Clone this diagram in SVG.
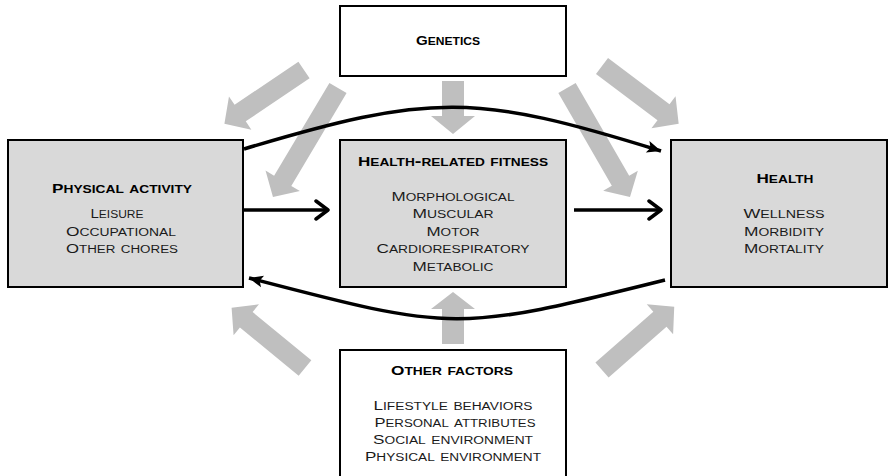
<svg xmlns="http://www.w3.org/2000/svg" width="890" height="476" viewBox="0 0 890 476">
  <style>
    .box { stroke: #000; stroke-width: 2; }
    .grey { fill: #d9d9d9; }
    .white { fill: #fff; }
    .blk { fill: #bfbfbf; }
    .t { font-family: "Liberation Sans", Arial, sans-serif; font-variant: small-caps; font-size: 12.5px; text-anchor: middle; fill: #1a1a1a; }
    .t tspan { font-size: 14.5px; }
    .h { font-weight: bold; fill: #000; }
    .link { fill: none; stroke: #000; stroke-width: 3.5; }
  </style>
  <defs>
    <marker id="chev" markerUnits="userSpaceOnUse" viewBox="-16 -12 18 24" refX="0" refY="0" markerWidth="18" markerHeight="24" orient="auto">
      <path d="M-12,-9 L0,0 L-12,9" fill="none" stroke="#000" stroke-width="3.5" stroke-linecap="round" stroke-linejoin="round"/>
    </marker>
    <marker id="tri" markerUnits="userSpaceOnUse" viewBox="-16 -8 18 16" refX="0" refY="0" markerWidth="18" markerHeight="16" orient="auto">
      <path d="M-14,-6 L0,0 L-14,6 L-11,0 Z" fill="#000"/>
    </marker>
  </defs>

  <!-- broad grey influence arrows -->
  <g id="influences">
    <polygon class="blk" transform="translate(453,81) rotate(90)" points="0,-11 35,-11 35,-22 53,0 35,22 35,11 0,11"/>
    <polygon class="blk" transform="translate(453,344) rotate(-90)" points="0,-11 35,-11 35,-22 52,0 35,22 35,11 0,11"/>
    <polygon class="blk" transform="translate(304,70) rotate(146)" points="0,-10 77,-10 77,-20 96,0 77,20 77,10 0,10"/>
    <polygon class="blk" transform="translate(338,88) rotate(120.8)" points="0,-10 108,-10 108,-20 127,0 108,20 108,10 0,10"/>
    <polygon class="blk" transform="translate(602,66) rotate(37)" points="0,-10 77,-10 77,-20 96,0 77,20 77,10 0,10"/>
    <polygon class="blk" transform="translate(567,88) rotate(60)" points="0,-10 107,-10 107,-20 126,0 107,20 107,10 0,10"/>
    <polygon class="blk" transform="translate(305,368) rotate(-140.6)" points="0,-10 76,-10 76,-20 95,0 76,20 76,10 0,10"/>
    <polygon class="blk" transform="translate(602,370) rotate(-41.2)" points="0,-10 77,-10 77,-20 96,0 77,20 77,10 0,10"/>
  </g>

  <!-- black connectors -->
  <g id="connectors">
    <path class="link" d="M244,149 C431,93 475,93 661,151" marker-end="url(#tri)"/>
    <path class="link" d="M243,210 L328,210" marker-end="url(#chev)"/>
    <path class="link" d="M574,210 L661,210" marker-end="url(#chev)"/>
    <path class="link" d="M665,280 C457,332 455,332 249,278" marker-end="url(#tri)"/>
  </g>

  <g id="genetics">
    <rect class="box white" x="340" y="6" width="226" height="70"/>
    <text class="t h" x="448" y="45" textLength="64" lengthAdjust="spacingAndGlyphs">G<tspan>enetics</tspan></text>
  </g>

  <g id="physical-activity">
    <rect class="box grey" x="8" y="140" width="235" height="147"/>
    <text class="t h" x="122" y="193" textLength="140" lengthAdjust="spacingAndGlyphs">P<tspan>hysical activity</tspan></text>
    <text class="t" x="117" y="218" textLength="53" lengthAdjust="spacingAndGlyphs">L<tspan>eisure</tspan></text>
    <text class="t" x="121" y="236" textLength="110" lengthAdjust="spacingAndGlyphs">O<tspan>ccupational</tspan></text>
    <text class="t" x="122" y="253" textLength="112" lengthAdjust="spacingAndGlyphs">O<tspan>ther chores</tspan></text>
  </g>

  <g id="fitness">
    <rect class="box grey" x="340" y="140" width="226" height="147"/>
    <text class="t h" x="453" y="166" textLength="190" lengthAdjust="spacingAndGlyphs">H<tspan>ealth-related fitness</tspan></text>
    <text class="t" x="453" y="201" textLength="123" lengthAdjust="spacingAndGlyphs">M<tspan>orphological</tspan></text>
    <text class="t" x="453" y="218" textLength="81" lengthAdjust="spacingAndGlyphs">M<tspan>uscular</tspan></text>
    <text class="t" x="453" y="236" textLength="53" lengthAdjust="spacingAndGlyphs">M<tspan>otor</tspan></text>
    <text class="t" x="453" y="253" textLength="153" lengthAdjust="spacingAndGlyphs">C<tspan>ardiorespiratory</tspan></text>
    <text class="t" x="453" y="271" textLength="81" lengthAdjust="spacingAndGlyphs">M<tspan>etabolic</tspan></text>
  </g>

  <g id="health">
    <rect class="box grey" x="671" y="140" width="216" height="147"/>
    <text class="t h" x="785" y="183" textLength="57" lengthAdjust="spacingAndGlyphs">H<tspan>ealth</tspan></text>
    <text class="t" x="784" y="218" textLength="81" lengthAdjust="spacingAndGlyphs">W<tspan>ellness</tspan></text>
    <text class="t" x="784" y="236" textLength="80" lengthAdjust="spacingAndGlyphs">M<tspan>orbidity</tspan></text>
    <text class="t" x="784" y="253" textLength="80" lengthAdjust="spacingAndGlyphs">M<tspan>ortality</tspan></text>
  </g>

  <g id="other-factors">
    <rect class="box white" x="340" y="350" width="226" height="130"/>
    <text class="t h" x="452" y="375" textLength="122" lengthAdjust="spacingAndGlyphs">O<tspan>ther factors</tspan></text>
    <text class="t" x="453" y="410" textLength="159" lengthAdjust="spacingAndGlyphs">L<tspan>ifestyle behaviors</tspan></text>
    <text class="t" x="455" y="427" textLength="161" lengthAdjust="spacingAndGlyphs">P<tspan>ersonal attributes</tspan></text>
    <text class="t" x="453" y="444" textLength="160" lengthAdjust="spacingAndGlyphs">S<tspan>ocial environment</tspan></text>
    <text class="t" x="453" y="461" textLength="176" lengthAdjust="spacingAndGlyphs">P<tspan>hysical environment</tspan></text>
  </g>
</svg>
